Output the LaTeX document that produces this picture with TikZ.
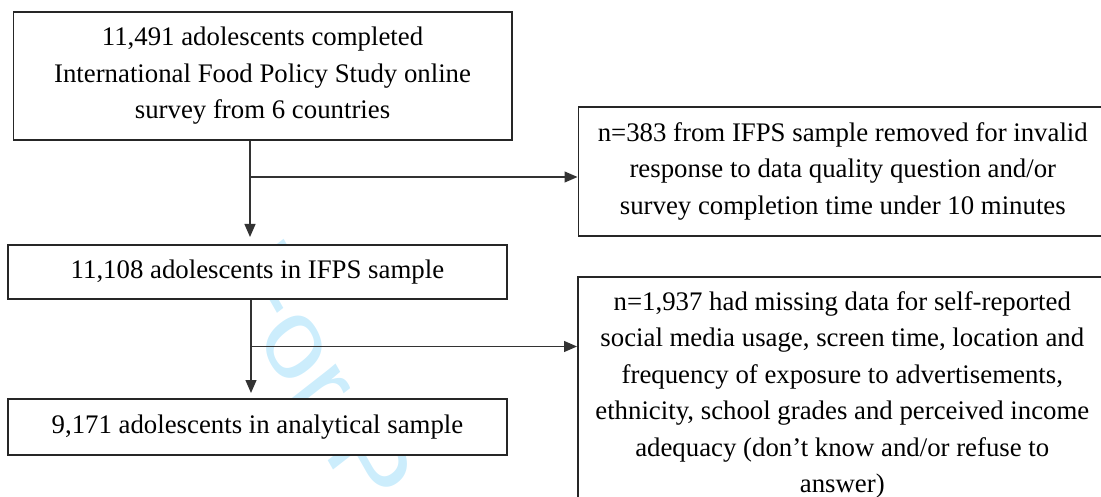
\documentclass[tikz,border=0pt]{standalone}
\usepackage{fontspec}
\setmainfont{Liberation Serif}
\newfontfamily\wmfont{Liberation Sans}
\usetikzlibrary{arrows.meta}
\definecolor{wmblue}{RGB}{204,237,252}
\tikzset{
  box/.style={draw=black!85, fill=white, line width=1.6pt, align=center, inner sep=0pt,
    font=\fontsize{26.8pt}{36.5pt}\selectfont, anchor=north west},
  conn/.style={draw=black!80, line width=1.2pt},
  arr/.style={conn, -{Triangle[length=13pt,width=11pt]}},
  wm/.style={text=wmblue, font=\wmfont\fontsize{115pt}{115pt}\selectfont, inner sep=0pt, anchor=base west, transform shape}
}
\begin{document}
\begin{tikzpicture}[x=1pt,y=1pt]
\useasboundingbox (0,0) rectangle (1101,-497);
\clip (0,0) rectangle (1101,-497);
\begin{scope}[shift={(222,-275)}, cm={0.4957,-0.8696,0.7195,0.5624,(0,0)}]
\node[wm] (wm) at (0,0) {For Peer Review};
\end{scope}
\node[box, minimum width=498.5pt, minimum height=128pt] (b1) at (12.5,-11)
  {11,491 adolescents completed\\International Food Policy Study online\\survey from 6 countries};
\node[box, minimum width=529pt, minimum height=129pt] (b2) at (577.5,-106)
  {n=383 from IFPS sample removed for invalid\\response to data quality question and/or\\survey completion time under 10 minutes};
\node[box, minimum width=498.5pt, minimum height=54.5pt] (b3) at (7.4,-244)
  {11,108 adolescents in IFPS sample};
\node[box, minimum width=529pt, minimum height=236pt] (b4) at (577,-276)
  {n=1,937 had missing data for self-reported\\social media usage, screen time, location and\\frequency of exposure to advertisements,\\ethnicity, school grades and perceived income\\adequacy (don’t know and/or refuse to\\answer)};
\node[box, minimum width=498.5pt, minimum height=56pt] (b5) at (7.4,-398)
  {9,171 adolescents in analytical sample};
\coordinate (t1) at (250,-237);
\coordinate (j1) at (250,-177);
\coordinate (t2) at (251,-393);
\coordinate (j2) at (251,-346.5);
\draw[arr] (b1.south -| t1) -- (t1);
\draw[arr] (j1) -- (j1 -| b2.west);
\draw[arr] (b3.south -| t2) -- (t2);
\draw[arr] (j2) -- (j2 -| b4.west);
\end{tikzpicture}
\end{document}
